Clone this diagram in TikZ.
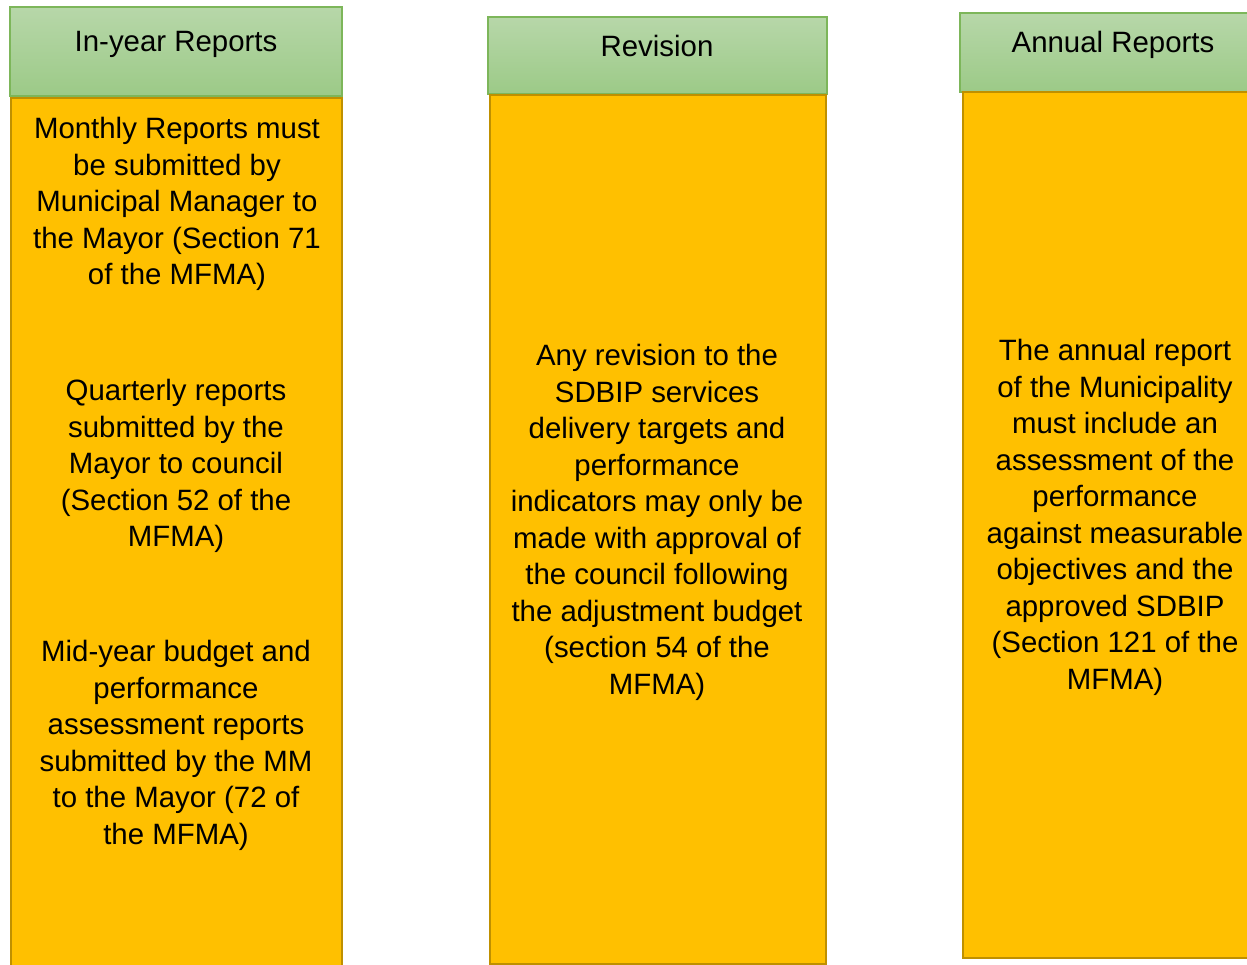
\documentclass[tikz,border=0pt]{standalone}
\usepackage{fontspec}
\setmainfont{Liberation Sans}
\definecolor{boxfill}{HTML}{FFC000}
\definecolor{boxline}{HTML}{BF9000}
\definecolor{hdtop}{HTML}{B7D7A9}
\definecolor{hdbot}{HTML}{9CCA87}
\definecolor{hdline}{HTML}{7DB65A}
\tikzset{
  hdr/.style={draw=hdline, line width=1.3pt, top color=hdtop, bottom color=hdbot},
  body/.style={draw=boxline, line width=2pt, fill=boxfill},
  txt/.style={inner sep=0pt, align=center, font=\fontsize{29.4}{36.5}\selectfont},
}
\begin{document}
\begin{tikzpicture}[x=1pt,y=-1pt]
\useasboundingbox (0,0) rectangle (1247,965);
\clip (0,0) rectangle (1247,965);
% column 1
\path[hdr] (10,7) rectangle (342,96);
\path[body] (11,98) rectangle (342,975);
\node[txt] (h1) at (176,44) {In-year Reports};
\node[txt, anchor=north] (p1) at (177,117) {Monthly Reports must\\be submitted by\\Municipal Manager to\\the Mayor (Section 71\\of the MFMA)};
\node[txt, anchor=north] (p2) at (176,379) {Quarterly reports\\submitted by the\\Mayor to council\\(Section 52 of the\\MFMA)};
\node[txt, anchor=north] (p3) at (176,640) {Mid-year budget and\\performance\\assessment reports\\submitted by the MM\\to the Mayor (72 of\\the MFMA)};
% column 2
\path[hdr] (488,17) rectangle (827,94);
\path[body] (490,95) rectangle (826,964);
\node[txt] (h2) at (657,46) {Revision};
\node[txt, anchor=north] (p4) at (657,344) {Any revision to the\\SDBIP services\\delivery targets and\\performance\\indicators may only be\\made with approval of\\the council following\\the adjustment budget\\(section 54 of the\\MFMA)};
% column 3
\path[hdr] (960,13) rectangle (1255,92);
\path[body] (963,92) rectangle (1255,958);
\node[txt] (h3) at (1113,45) {Annual Reports};
\node[txt, anchor=north] (p5) at (1115,339) {The annual report\\of the Municipality\\must include an\\assessment of the\\performance\\against measurable\\objectives and the\\approved SDBIP\\(Section 121 of the\\MFMA)};
\end{tikzpicture}
\end{document}
